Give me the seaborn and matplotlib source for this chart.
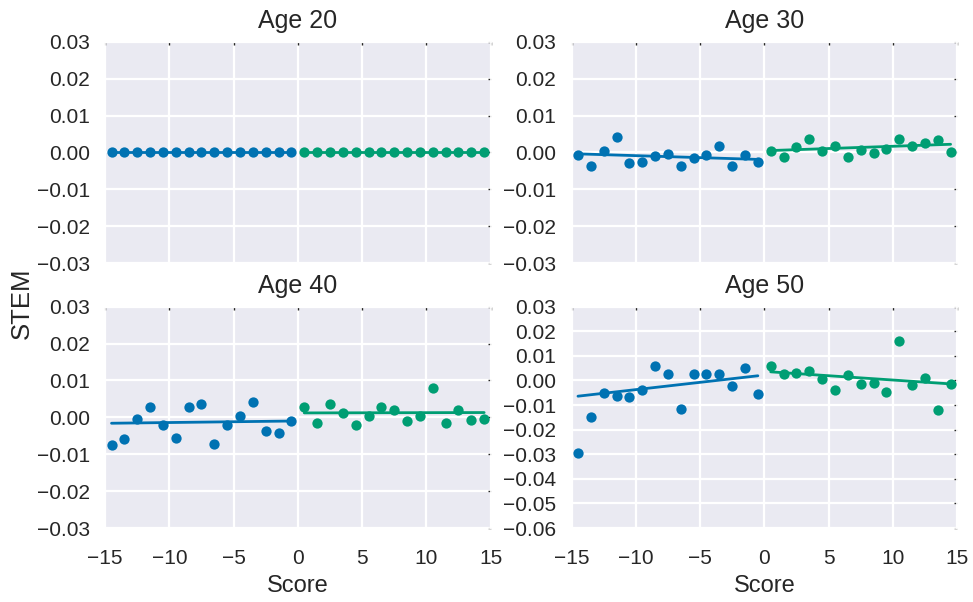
import numpy as np
import pandas as pd
import matplotlib
matplotlib.use("Agg")
import matplotlib.pyplot as plt
import seaborn as sns

# Score bins: below and above the cutoff
score_below = [-14.5, -13.5, -12.5, -11.5, -10.5, -9.5, -8.5, -7.5,
               -6.5, -5.5, -4.5, -3.5, -2.5, -1.5, -0.5]
score_above = [0.5, 1.5, 2.5, 3.5, 4.5, 5.5, 6.5, 7.5,
               8.5, 9.5, 10.5, 11.5, 12.5, 13.5, 14.5]

# STEM share by age panel (binned means)
age20_below = [0.0] * 15
age20_above = [0.0] * 15

age30_below = [-0.0008, -0.0037, 0.0004, 0.0043, -0.0030, -0.0027, -0.0010, -0.0004,
               -0.0038, -0.0014, -0.0008, 0.0017, -0.0036, -0.0006, -0.0026]
age30_above = [0.0005, -0.0013, 0.0014, 0.0035, 0.0005, 0.0018, -0.0013, 0.0006,
               -0.0002, 0.0008, 0.0035, 0.0018, 0.0025, 0.0034, 0.0000]

age40_below = [-0.0076, -0.0059, -0.0005, 0.0028, -0.0021, -0.0057, 0.0028, 0.0036,
               -0.0071, -0.0021, 0.0004, 0.0042, -0.0036, -0.0043, -0.0011]
age40_above = [0.0027, -0.0015, 0.0035, 0.0011, -0.0020, 0.0004, 0.0029, 0.0019,
               -0.0009, 0.0004, 0.0080, -0.0014, 0.0020, -0.0008, -0.0005]

age50_below = [-0.0293, -0.0148, -0.0050, -0.0064, -0.0068, -0.0037, 0.0059, 0.0027,
               -0.0118, 0.0026, 0.0027, 0.0026, -0.0023, 0.0051, -0.0054]
age50_above = [0.0059, 0.0028, 0.0031, 0.0038, 0.0005, -0.0037, 0.0023, -0.0014,
               -0.0012, -0.0045, 0.0159, -0.0020, 0.0011, -0.0120, -0.0015]

# Fitted linear trends (value at first and last bin on each side)
fit_x_below = [-14.5, -0.5]
fit_x_above = [0.5, 14.5]
age20_fit_below = [0.0, 0.0]
age20_fit_above = [0.0, 0.0]
age30_fit_below = [-0.0004, -0.0019]
age30_fit_above = [0.0005, 0.0022]
age40_fit_below = [-0.0016, -0.0010]
age40_fit_above = [0.0012, 0.0013]
age50_fit_below = [-0.0064, 0.0019]
age50_fit_above = [0.0035, -0.0014]

panel_titles = ["Age 20", "Age 30", "Age 40", "Age 50"]
panel_data = [
    (age20_below, age20_above, age20_fit_below, age20_fit_above),
    (age30_below, age30_above, age30_fit_below, age30_fit_above),
    (age40_below, age40_above, age40_fit_below, age40_fit_above),
    (age50_below, age50_above, age50_fit_below, age50_fit_above),
]

x_ticks = [-15, -10, -5, 0, 5, 10, 15]
y_ticks_common = [-0.03, -0.02, -0.01, 0.00, 0.01, 0.02, 0.03]
y_ticks_age50 = [-0.06, -0.05, -0.04, -0.03, -0.02, -0.01, 0.00, 0.01, 0.02, 0.03]

sns.set_theme(style="darkgrid")
plt.rcParams["font.family"] = ["Liberation Sans", "DejaVu Sans"]
plt.rcParams["axes.unicode_minus"] = True

blue, green = "#0072B2", "#009E73"


def minus(s):
    return s.replace("-", "\u2212")


fig, axes = plt.subplots(2, 2, figsize=(9.73, 6.02), dpi=100, sharex=True)
fig.subplots_adjust(left=0.108, right=0.9836, top=0.9307, bottom=0.1229,
                    wspace=0.21, hspace=0.197)

for ax, title, (below, above, fit_b, fit_a) in zip(axes.flat, panel_titles, panel_data):
    sides = ((score_below, below, fit_x_below, fit_b, blue),
             (score_above, above, fit_x_above, fit_a, green))
    for xs, ys, fx, fy, col in sides:
        sns.scatterplot(x=xs, y=ys, ax=ax, color=col, s=55, linewidth=0,
                        alpha=1, zorder=3)
        sns.lineplot(x=fx, y=fy, ax=ax, color=col, lw=2.0, zorder=4)
    ax.set_title(title, fontsize=18, pad=10)
    ax.set_xlim(-15, 15)
    ax.set_xticks(x_ticks)
    ax.set_xlabel("")
    ax.set_ylabel("")
    ax.tick_params(axis="both", labelsize=15, direction="in", length=2.5,
                   width=1, color=".15", top=True, right=True)
    ax.tick_params(axis="y", pad=11)
    ax.tick_params(axis="x", pad=15)
    ax.grid(True, color="white", lw=1.6)

for ax in axes[0]:
    ax.tick_params(labelbottom=False)

for ax in (axes[0, 0], axes[0, 1], axes[1, 0]):
    ax.set_ylim(-0.03, 0.03)
    ax.set_yticks(y_ticks_common)
    ax.set_yticklabels([minus(f"{v:.2f}") for v in y_ticks_common])

axes[1, 1].set_ylim(-0.06, 0.03)
axes[1, 1].set_yticks(y_ticks_age50)
axes[1, 1].set_yticklabels([minus(f"{v:.2f}") for v in y_ticks_age50])

for ax in axes[1]:
    ax.set_xticklabels([minus(str(v)) for v in x_ticks])
    ax.set_xlabel("Score", fontsize=17, labelpad=5)

fig.text(0.022, 0.497, "STEM", rotation=90, fontsize=18.5, ha="center", va="center")

fig.savefig("out.png", dpi=100)
